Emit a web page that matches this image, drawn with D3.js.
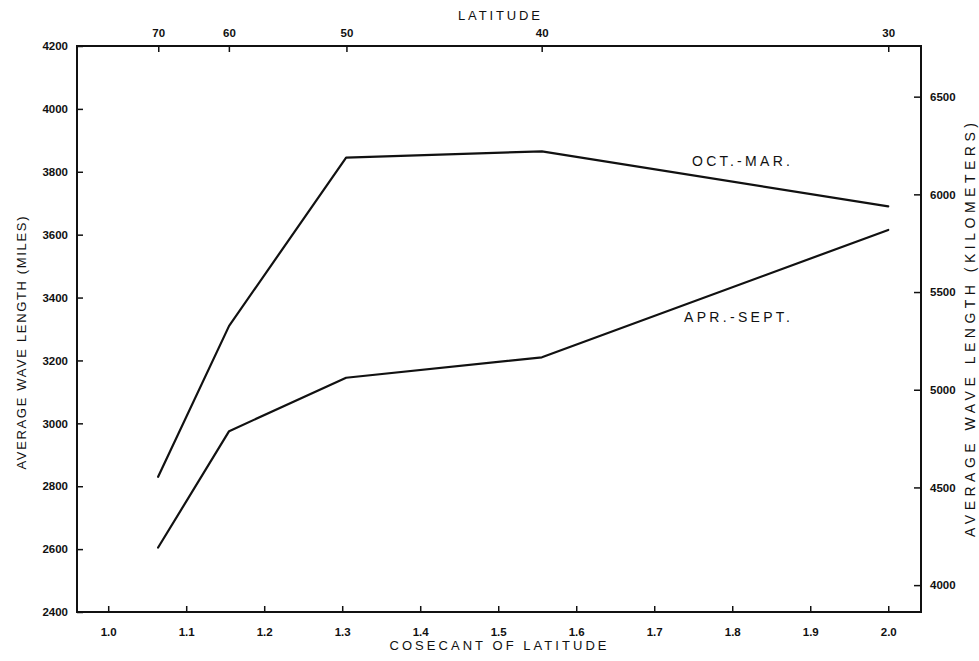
<!DOCTYPE html>
<html>
<head>
<meta charset="utf-8">
<script src="https://cdn.jsdelivr.net/npm/d3@7"></script>
<style>
  html, body { margin: 0; padding: 0; background: #fff; }
  svg { display: block; }
  text { font-family: "Liberation Sans", Arial, sans-serif; fill: #111; }
</style>
</head>
<body>
<svg id="chart" width="979" height="661"></svg>
<script>
// ---- data ----
const cosecant = [1.064, 1.155, 1.305, 1.556, 2.0];
const octMar   = [2830, 3310, 3845, 3865, 3690];
const aprSept  = [2605, 2975, 3145, 3210, 3615];
const seriesNames = ["OCT.-MAR.", "APR.-SEPT."];
const bottomTicks = [1.0, 1.1, 1.2, 1.3, 1.4, 1.5, 1.6, 1.7, 1.8, 1.9, 2.0];
const leftTicks = [2400, 2600, 2800, 3000, 3200, 3400, 3600, 3800, 4000, 4200];
const rightTicks = [4000, 4500, 5000, 5500, 6000, 6500];
const latitudeTicks = [70, 60, 50, 40, 30];
const KM_PER_MILE = 1.609344;

// ---- layout ----
const L = 77, R = 921, T = 46, B = 612;
const svg = d3.select("#chart");

const x = d3.scaleLinear().domain([0.96, 2.042]).range([L, R]);
const y = d3.scaleLinear().domain([2400, 4200]).range([B, T]);
const yKm = d3.scaleLinear().domain([2400 * KM_PER_MILE, 4200 * KM_PER_MILE]).range([B, T]);
const csc = lat => 1 / Math.sin(lat * Math.PI / 180);

// frame
svg.append("rect").attr("x", L).attr("y", T).attr("width", R - L).attr("height", B - T)
  .attr("fill", "none").attr("stroke", "#111").attr("stroke-width", 2);

// bottom axis
const bAxis = svg.append("g").attr("transform", `translate(0,${B})`)
  .call(d3.axisTop(x).tickValues(bottomTicks).tickSize(6).tickFormat(d3.format(".1f")).tickPadding(0));
bAxis.select(".domain").remove();
bAxis.selectAll(".tick line").attr("stroke", "#111").attr("stroke-width", 1.5);
bAxis.selectAll(".tick text").attr("y", 24).attr("dy", 0)
  .style("font-size", "11.5px").style("font-weight", "bold");

// left axis
const lAxis = svg.append("g").attr("transform", `translate(${L},0)`)
  .call(d3.axisRight(y).tickValues(leftTicks).tickSize(6).tickFormat(d3.format("d")));
lAxis.select(".domain").remove();
lAxis.selectAll(".tick line").attr("stroke", "#111").attr("stroke-width", 1.5);
lAxis.selectAll(".tick text").attr("x", -9).attr("text-anchor", "end")
  .style("font-size", "11.5px").style("font-weight", "bold");

// right axis (km)
const rAxis = svg.append("g").attr("transform", `translate(${R},0)`)
  .call(d3.axisLeft(yKm).tickValues(rightTicks).tickSize(7).tickFormat(d3.format("d")));
rAxis.select(".domain").remove();
rAxis.selectAll(".tick line").attr("stroke", "#111").attr("stroke-width", 1.5);
rAxis.selectAll(".tick text").attr("x", 9).attr("text-anchor", "start")
  .style("font-size", "11.5px").style("font-weight", "bold");

// top axis (latitude)
const tAxis = svg.append("g").attr("transform", `translate(0,${T})`)
  .call(d3.axisBottom(x)
    .tickValues(latitudeTicks.map(csc)).tickSize(6)
    .tickFormat((d, i) => latitudeTicks[i]));
tAxis.select(".domain").remove();
tAxis.selectAll(".tick line").attr("stroke", "#111").attr("stroke-width", 1.5);
tAxis.selectAll(".tick text").attr("y", -9).attr("dy", 0)
  .style("font-size", "11.5px").style("font-weight", "bold");

// titles
svg.append("text").attr("x", 499).attr("y", 20).attr("text-anchor", "middle")
  .attr("textLength", 82).attr("lengthAdjust", "spacing")
  .style("font-size", "13px").text("LATITUDE");
svg.append("text").attr("x", 498).attr("y", 650).attr("text-anchor", "middle")
  .attr("textLength", 217).attr("lengthAdjust", "spacing")
  .style("font-size", "13px").text("COSECANT OF LATITUDE");
svg.append("text").attr("transform", "translate(26,343) rotate(-90)").attr("text-anchor", "middle")
  .attr("textLength", 253).attr("lengthAdjust", "spacing")
  .style("font-size", "13px").text("AVERAGE WAVE LENGTH (MILES)");
svg.append("text").attr("transform", "translate(975,330) rotate(-90)").attr("text-anchor", "middle")
  .attr("textLength", 414).attr("lengthAdjust", "spacing")
  .style("font-size", "14px").text("AVERAGE WAVE LENGTH (KILOMETERS)");

// lines
const line = d3.line().x(d => x(d[0])).y(d => y(d[1]));
[octMar, aprSept].forEach(vals => {
  svg.append("path").datum(cosecant.map((c, i) => [c, vals[i]]))
    .attr("d", line).attr("fill", "none").attr("stroke", "#111")
    .attr("stroke-width", 2.2).attr("stroke-linejoin", "round").attr("stroke-linecap", "round");
});

// series labels
svg.append("text").attr("x", 692).attr("y", 166).attr("textLength", 98).attr("lengthAdjust", "spacing")
  .style("font-size", "14px").text(seriesNames[0]);
svg.append("text").attr("x", 684).attr("y", 322).attr("textLength", 106).attr("lengthAdjust", "spacing")
  .style("font-size", "14px").text(seriesNames[1]);
</script>
</body>
</html>
